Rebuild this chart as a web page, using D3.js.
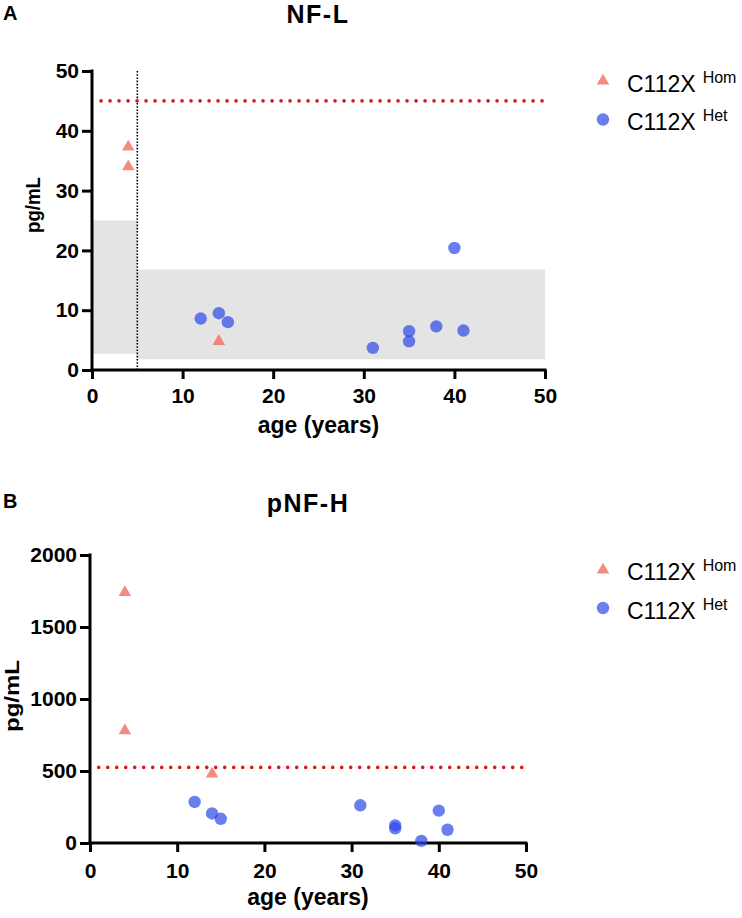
<!DOCTYPE html>
<html><head><meta charset="utf-8">
<script src="https://cdn.jsdelivr.net/npm/d3@7/dist/d3.min.js"></script>
<style>body{margin:0;background:#fff}svg{display:block;font-family:"Liberation Sans",Arial,sans-serif}</style>
</head><body>
<script>
// ---- data ----
const nflHomAge = [4, 4, 14];
const nflHomVal = [37.3, 34, 4.8];
const nflHetAge = [12, 14, 15, 31, 35, 35, 38, 40, 41];
const nflHetVal = [8.6, 9.5, 8.0, 3.7, 6.5, 4.8, 7.3, 20.4, 6.6];
const nflCutoff = 45;
const nflRefAge = 5;
const nflRefBands = [[0, 5, 2.7, 25], [5, 50, 1.8, 16.8]]; // [x0,x1,y0,y1]
const pnfhHomAge = [4, 4, 14];
const pnfhHomVal = [1740, 780, 480];
const pnfhHetAge = [12, 14, 15, 31, 35, 35, 38, 40, 41];
const pnfhHetVal = [285, 205, 168, 262, 122, 102, 15, 225, 92];
const pnfhCutoff = 525;
const xTicks = [0, 10, 20, 30, 40, 50];
const nflYTicks = [0, 10, 20, 30, 40, 50];
const pnfhYTicks = [0, 500, 1000, 1500, 2000];
const legendLabels = [["C112X", "Hom"], ["C112X", "Het"]];

const W = 742, H = 918;
const svg = d3.select("body").append("svg").attr("width", W).attr("height", H);

const triFill = "rgb(240,110,98)", triOp = 0.8;
const cirFill = "rgb(44,71,233)", cirOp = 0.7;
const red = "#d9161c";
const FF = "Liberation Sans, Arial, sans-serif";

function panel(o) {
  const g = svg.append("g");
  const x = d3.scaleLinear().domain([0, 50]).range([o.x0, o.x1]);
  const y = d3.scaleLinear().domain(o.yDomain).range([o.y0, o.y1]);

  (o.bands || []).forEach(b => {
    g.append("rect").attr("x", x(b[0])).attr("width", x(b[1]) - x(b[0]))
      .attr("y", y(b[3])).attr("height", y(b[2]) - y(b[3])).attr("fill", "#e4e4e4");
  });
  if (o.vline != null) {
    g.append("line").attr("x1", x(o.vline)).attr("x2", x(o.vline))
      .attr("y1", y(o.yDomain[1])).attr("y2", y(0))
      .attr("stroke", "#000").attr("stroke-width", 1.6).attr("stroke-dasharray", "1.6 1.6");
  }
  g.append("line").attr("x1", x(1)).attr("x2", x(50)).attr("y1", y(o.cutoff)).attr("y2", y(o.cutoff))
    .attr("stroke", red).attr("stroke-width", 3.6).attr("stroke-linecap", "round").attr("stroke-dasharray", "0 9");

  const xa = g.append("g").attr("transform", `translate(0,${o.y0})`)
    .call(d3.axisBottom(x).tickValues(xTicks).tickSize(9).tickFormat(d3.format("d")).tickSizeOuter(0));
  const ya = g.append("g").attr("transform", `translate(${o.x0},0)`)
    .call(d3.axisLeft(y).tickValues(o.yTicks).tickSize(10).tickPadding(3).tickFormat(d3.format("d")).tickSizeOuter(0));
  [xa, ya].forEach(a => {
    a.attr("font-family", FF);
    a.select(".domain").attr("stroke", "#000").attr("stroke-width", 3);
    a.selectAll(".tick line").attr("stroke", "#000").attr("stroke-width", 3);
    a.selectAll(".tick text").attr("fill", "#000").attr("font-size", 21).attr("font-weight", "bold");
  });
  xa.select(".domain").attr("d", `M${o.x0 - 1.5},0H${o.x1 + 1.5}`);
  ya.select(".domain").attr("d", `M0,${o.y1 - 1.5}V${o.y0 + 1.5}`);
  xa.selectAll(".tick text").attr("dy", null).attr("y", o.xLabOff);

  g.selectAll(".het").data(o.hetAge.map((a, i) => [a, o.hetVal[i]])).join("circle")
    .attr("cx", d => x(d[0])).attr("cy", d => y(d[1])).attr("r", 6.2)
    .attr("fill", cirFill).attr("fill-opacity", cirOp);
  g.selectAll(".hom").data(o.homAge.map((a, i) => [a, o.homVal[i]])).join("path")
    .attr("d", d3.symbol(d3.symbolTriangle, 68))
    .attr("transform", d => `translate(${x(d[0])},${y(d[1])})`)
    .attr("fill", triFill).attr("fill-opacity", triOp);

  g.append("text").attr("x", o.titleX).attr("y", o.titleY).attr("text-anchor", "middle")
    .attr("font-size", 25).attr("letter-spacing", 1.5).attr("font-weight", "bold").text(o.title);
  g.append("text").attr("x", 3).attr("y", o.letterY).attr("font-size", 20).attr("font-weight", "bold").text(o.letter);
  g.append("text").attr("transform", `translate(${o.yLabX},${o.yLabY}) rotate(-90)`).attr("text-anchor", "middle")
    .attr("font-size", 20).attr("font-weight", "bold")
    .attr("textLength", o.yLabLen).attr("lengthAdjust", "spacingAndGlyphs").text("pg/mL");
  g.append("text").attr("x", (o.x0 + o.x1) / 2).attr("y", o.xLabY).attr("text-anchor", "middle")
    .attr("font-size", 23).attr("font-weight", "bold").text("age (years)");

  const lg = g.append("g");
  legendLabels.forEach((lab, i) => {
    const cy = o.legY[i];
    if (i === 0) {
      lg.append("path").attr("d", d3.symbol(d3.symbolTriangle, 68)).attr("transform", `translate(603,${cy})`)
        .attr("fill", triFill).attr("fill-opacity", triOp);
    } else {
      lg.append("circle").attr("cx", 603).attr("cy", cy).attr("r", 6.2).attr("fill", cirFill).attr("fill-opacity", cirOp);
    }
    const t = lg.append("text").attr("x", 627).attr("y", o.legTextY[i]).attr("font-size", 23);
    t.append("tspan").text(lab[0]);
    t.append("tspan").attr("dx", 7).attr("dy", -9).attr("font-size", 16).text(lab[1]);
  });
}

panel({
  x0: 92, x1: 545, y0: 370, y1: 71, yDomain: [0, 50], yTicks: nflYTicks,
  homAge: nflHomAge, homVal: nflHomVal, hetAge: nflHetAge, hetVal: nflHetVal,
  cutoff: nflCutoff, vline: nflRefAge, bands: nflRefBands,
  title: "NF-L", titleX: 318, titleY: 23, letter: "A", letterY: 20,
  yLabX: 40, yLabY: 205, yLabLen: 56, xLabY: 433, xLabOff: 33,
  legY: [81, 119.5], legTextY: [91.5, 130]
});
panel({
  x0: 90, x1: 526, y0: 843, y1: 555, yDomain: [0, 2000], yTicks: pnfhYTicks,
  homAge: pnfhHomAge, homVal: pnfhHomVal, hetAge: pnfhHetAge, hetVal: pnfhHetVal,
  cutoff: pnfhCutoff, vline: null, bands: [],
  title: "pNF-H", titleX: 308, titleY: 512, letter: "B", letterY: 508,
  yLabX: 19, yLabY: 696, yLabLen: 72, xLabY: 905, xLabOff: 35,
  legY: [570, 608], legTextY: [580, 619]
});
</script>
</body></html>
